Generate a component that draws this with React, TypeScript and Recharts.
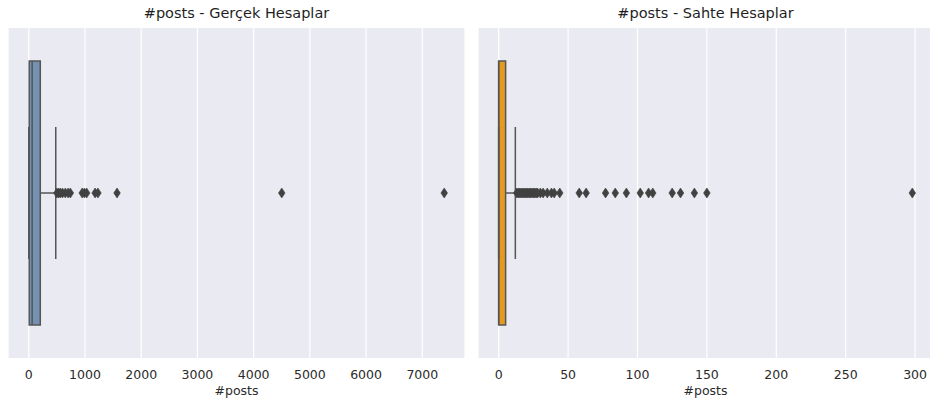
import React from 'react';
import { ScatterChart, Scatter, XAxis, YAxis, CartesianGrid, ReferenceArea, ReferenceLine } from 'recharts';

// box statistics: [low whisker, Q1, median, Q3, high whisker]
const REAL_STATS = [0, 8, 60, 205, 480];
const REAL_OUTLIERS = [500, 530, 560, 600, 650, 700, 740, 950, 990, 1030, 1180, 1230, 1570, 4500, 7390];
const REAL_TICKS = [0, 1000, 2000, 3000, 4000, 5000, 6000, 7000];

const FAKE_STATS = [0, 0, 0, 5, 12];
const FAKE_OUTLIERS = [13, 14, 15, 16, 17, 18, 19, 20, 21, 22, 23, 24, 25, 26, 27, 28, 30, 32, 35, 38, 40, 44, 58, 63, 77, 84, 92, 102, 108, 111, 125, 131, 141, 150, 298];
const FAKE_TICKS = [0, 50, 100, 150, 200, 250, 300];

const GRAY = '#555555';
const BG = '#EAEAF2';
const FONT = '"DejaVu Sans", sans-serif';

const Diamond = (props: any) => {
  const { cx, cy } = props;
  if (cx == null || cy == null) return null;
  return <polygon points={`${cx},${cy - 5} ${cx + 3.3},${cy} ${cx},${cy + 5} ${cx - 3.3},${cy}`} fill="#414141" stroke="#414141" strokeWidth={0.6} />;
};

type PanelProps = {
  title: string;
  stats: number[];
  outliers: number[];
  ticks: number[];
  color: string;
  left: number;
  margin: { top: number; right: number; bottom: number; left: number };
};

function Panel({ title, stats, outliers, ticks, color, left, margin }: PanelProps) {
  const [lo, q1, med, q3, hi] = stats;
  const all = [lo, ...outliers];
  const min = Math.min(...all);
  const max = Math.max(...all);
  const pad = (max - min) * 0.05;
  const points = outliers.map((v) => ({ x: v, y: 0 }));
  const w = 470;
  const plotW = w - margin.left - margin.right;

  return (
    <div style={{ position: 'absolute', left, top: 0, width: w, height: 408 }}>
      <div style={{ position: 'absolute', left: margin.left, width: plotW, top: 4, textAlign: 'center', fontFamily: FONT, fontSize: 14.5, lineHeight: '18px', color: '#1f1f1f' }}>
        {title}
      </div>
      <ScatterChart width={w} height={408} margin={margin}>
        <CartesianGrid horizontal={false} stroke="#ffffff" strokeWidth={1.2} fill={BG} />
        <XAxis
          type="number"
          dataKey="x"
          domain={[min - pad, max + pad]}
          ticks={ticks}
          allowDataOverflow
          axisLine={false}
          tickLine={false}
          tickSize={0}
          tickMargin={12}
          height={50}
          tick={{ fill: '#2b2b2b', fontSize: 12.5, fontFamily: FONT }}
          label={{ value: '#posts', position: 'insideBottom', offset: 13, fill: '#2b2b2b', fontSize: 12.5, fontFamily: FONT }}
        />
        <YAxis type="number" dataKey="y" domain={[-0.5, 0.5]} hide />
        <ReferenceLine segment={[{ x: q3, y: 0 }, { x: hi, y: 0 }]} stroke={GRAY} strokeWidth={1.5} />
        <ReferenceLine segment={[{ x: lo, y: 0 }, { x: q1, y: 0 }]} stroke={GRAY} strokeWidth={1.5} />
        <ReferenceLine segment={[{ x: hi, y: -0.2 }, { x: hi, y: 0.2 }]} stroke={GRAY} strokeWidth={1.5} />
        <ReferenceLine segment={[{ x: lo, y: -0.2 }, { x: lo, y: 0.2 }]} stroke={GRAY} strokeWidth={1.5} />
        <ReferenceArea x1={q1} x2={q3} y1={-0.4} y2={0.4} fill={color} fillOpacity={1} stroke={GRAY} strokeWidth={1.5} />
        <ReferenceLine segment={[{ x: med, y: -0.4 }, { x: med, y: 0.4 }]} stroke={GRAY} strokeWidth={1.5} />
        <Scatter data={points} shape={<Diamond />} isAnimationActive={false} />
      </ScatterChart>
    </div>
  );
}

export default function App() {
  return (
    <div style={{ position: 'fixed', left: 0, top: 0, width: 930, height: 408, overflow: 'hidden', background: '#ffffff' }}>
      <Panel
        title="#posts - Gerçek Hesaplar"
        stats={REAL_STATS}
        outliers={REAL_OUTLIERS}
        ticks={REAL_TICKS}
        color="#7491b3"
        left={0}
        margin={{ top: 28, right: 5, bottom: 0, left: 8 }}
      />
      <Panel
        title="#posts - Sahte Hesaplar"
        stats={FAKE_STATS}
        outliers={FAKE_OUTLIERS}
        ticks={FAKE_TICKS}
        color="#e59a1f"
        left={470}
        margin={{ top: 28, right: 7, bottom: 0, left: 8 }}
      />
    </div>
  );
}
